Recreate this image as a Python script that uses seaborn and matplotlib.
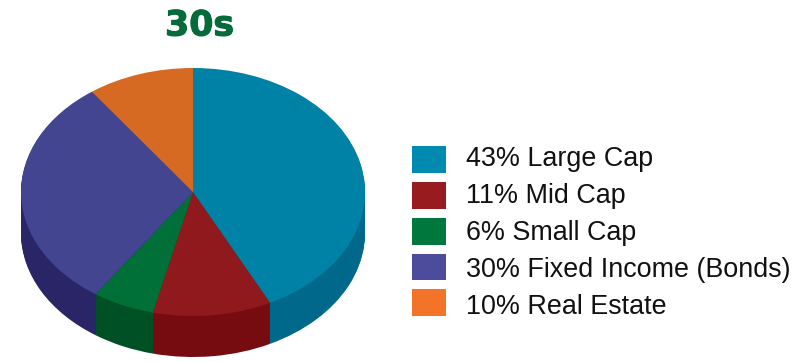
"""30s allocation - tilted pie chart"""
import numpy as np
import matplotlib
matplotlib.use('Agg')
import matplotlib.pyplot as plt
import matplotlib.patheffects as pe
from matplotlib.patches import Patch
import seaborn as sns

# data
categories = ['Large Cap', 'Mid Cap', 'Small Cap', 'Fixed Income (Bonds)', 'Real Estate']
label_pcts = [43, 11, 6, 30, 10]
# slice sizes as actually drawn in the picture (a bit off the printed labels)
slice_shares = [42.6, 11.15, 5.85, 30.4, 10]
top_colors = ['#0081A6', '#8F191D', '#007038', '#434590', '#D66A22']
side_colors = ['#00688A', '#760C10', '#005026', '#2A2566', '#8A4416']
legend_colors = ['#008AB0', '#981B20', '#00783D', '#4C4B9C', '#F37329']
title = '30s'

sns.set_theme(style='white')
plt.rcParams['font.family'] = ['Liberation Sans', 'DejaVu Sans']

W, H = 800, 362
tilt = 124 / 172   # vertical squash of the pie
cx, cy = 193, 192  # centre of top face, pixels from top left
radius = 172
depth = 41

fig = plt.figure(figsize=(W / 100, H / 100), dpi=100, facecolor='white')
ax = fig.add_axes([0, 0, 1, 1])


def draw_pie(y_px, colors):
    ax.pie(slice_shares, colors=sns.color_palette(colors), startangle=90, counterclock=False,
           radius=radius, center=(cx, (H - y_px) / tilt),
           wedgeprops={'linewidth': 0, 'antialiased': True})


# side of the disc: stacked copies from the bottom up
for dy in range(depth, 0, -1):
    draw_pie(cy + dy, side_colors)
draw_pie(cy, top_colors)

ax.set_aspect('auto')
ax.set_xlim(0, W)
ax.set_ylim(0, H / tilt)
ax.axis('off')

ax.text(199.5, (H - 35.5) / tilt, title, ha='center', va='baseline', fontsize=25, fontweight='bold',
        family='DejaVu Sans', color='#056B3A',
        path_effects=[pe.withStroke(linewidth=0.8, foreground='#056B3A')])

handles = [Patch(facecolor=c, edgecolor='none') for c in legend_colors]
labels = [f'{s}% {c}' for s, c in zip(label_pcts, categories)]
leg = ax.legend(handles, labels, loc='upper left', bbox_to_anchor=(412 / W, 1 - 146 / H),
                bbox_transform=fig.transFigure, frameon=False, fontsize=19.4, borderpad=0,
                borderaxespad=0, handlelength=1.27, handleheight=1.16, handletextpad=0.73,
                labelspacing=0.27, labelcolor='#111111')

# text rows run on a slightly wider pitch than the swatches
for i, t in enumerate(leg.get_texts()):
    t.set_y(3 - 1.25 * i)

fig.savefig('out.png', dpi=100)
